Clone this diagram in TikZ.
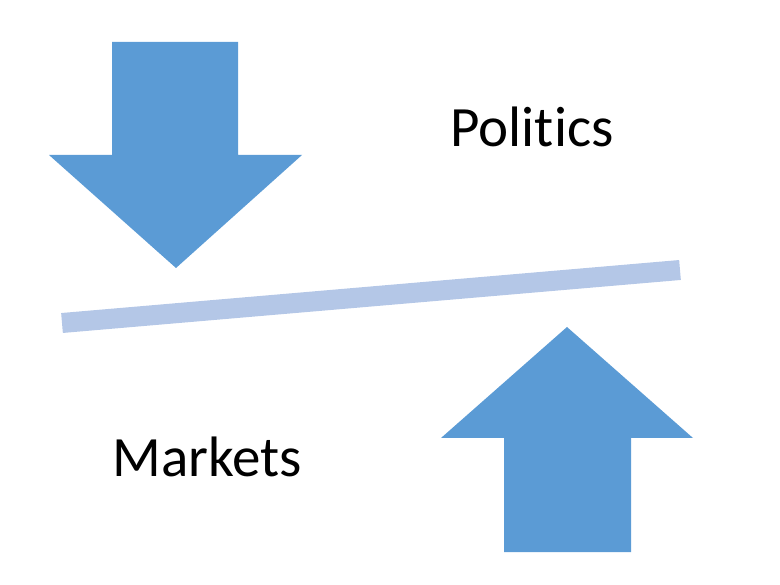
\documentclass[tikz,border=0pt]{standalone}
\usepackage{fontspec}
\setmainfont[Ligatures=NoCommon]{Carlito}
\usetikzlibrary{positioning}
\definecolor{arrowblue}{RGB}{91,155,213}
\definecolor{beamblue}{RGB}{180,199,231}

\begin{document}
\begin{tikzpicture}[x=1pt,y=-1pt,
  push/.style={fill=arrowblue,draw=none},
  word/.style={font=\fontsize{57}{60}\selectfont,anchor=base,inner sep=0pt}]
  \useasboundingbox (0,0) rectangle (780,585);
  % down arrow
  \fill[push] (112,42)--(238,42)--(238,155)--(302,155)--(176,268)--(49,155)--(112,155)--cycle;
  % up arrow
  \fill[push] (504,552)--(631,552)--(631,438)--(693,438)--(567,327)--(441,438)--(504,438)--cycle;
  % beam
  \coordinate (bl) at (62,323);
  \coordinate (br) at (680,270);
  \draw[beamblue,line width=20pt,line cap=butt] (bl)--(br);
  \node[word] (pol) at (532,147) {Politics};
  \node[word] (mkt) at (207,477) {Markets};
\end{tikzpicture}
\end{document}
